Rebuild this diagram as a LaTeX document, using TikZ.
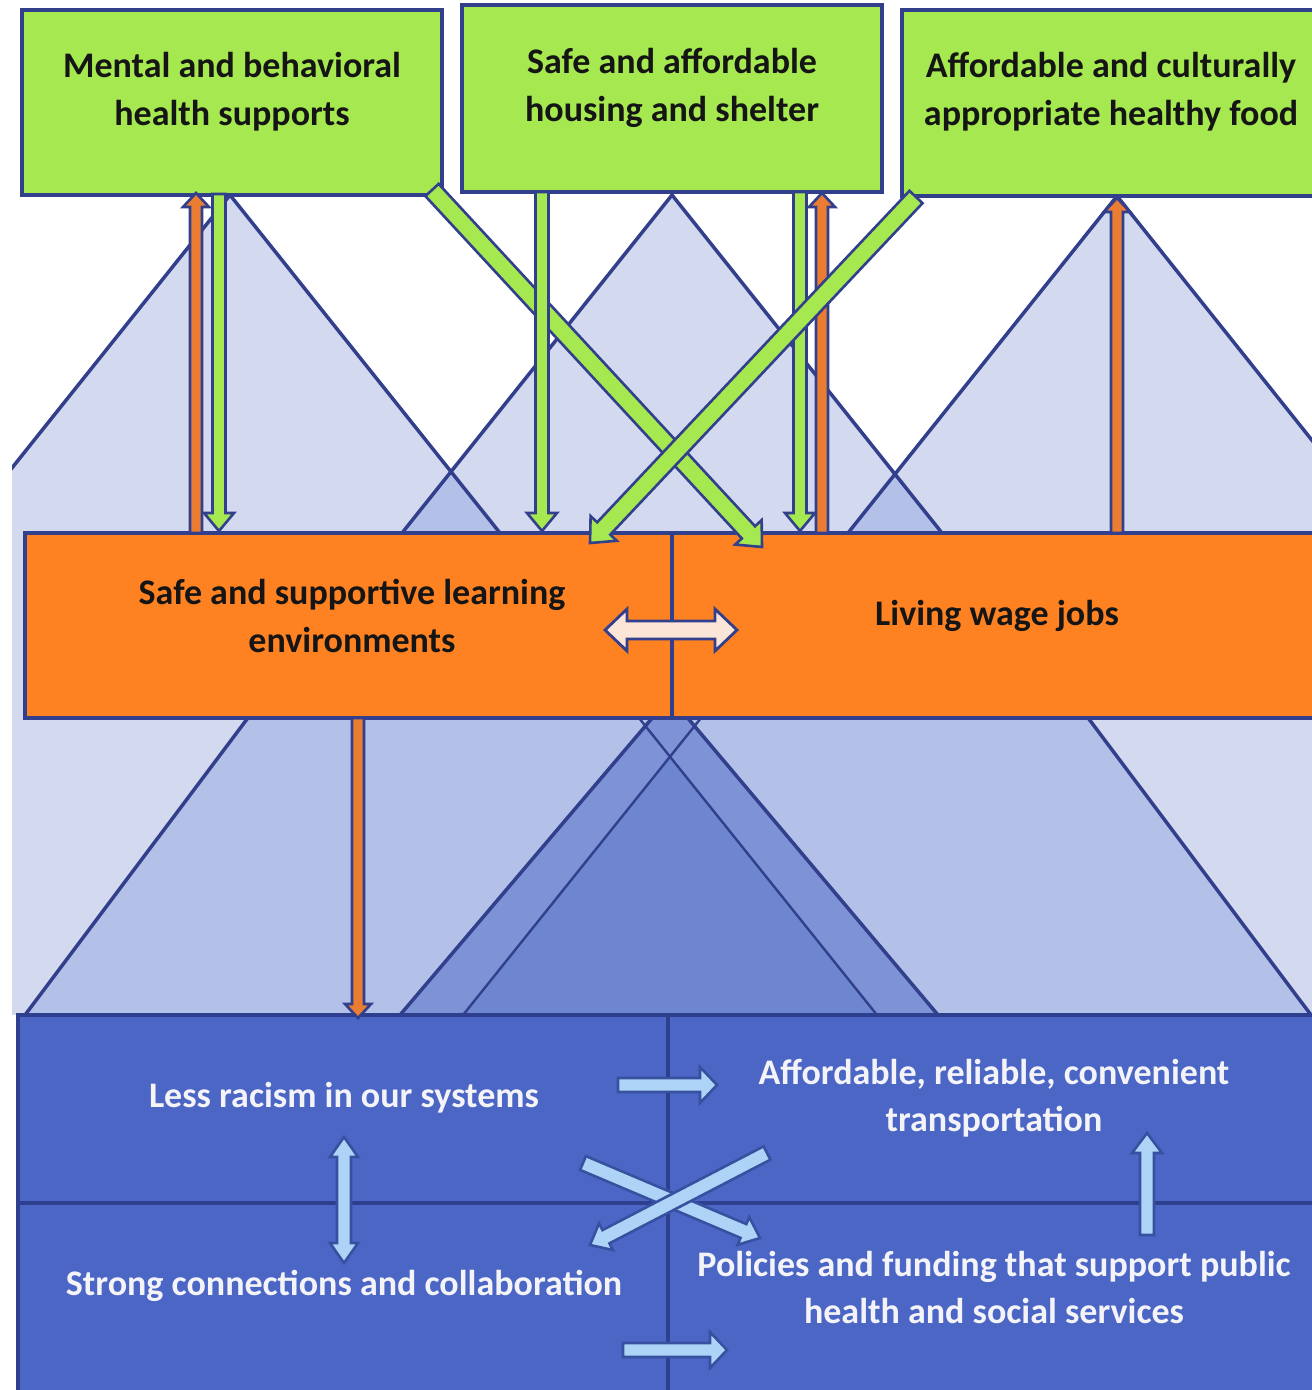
\documentclass[tikz,border=0pt]{standalone}
\usepackage{fontspec}
\setmainfont{Carlito}
\usetikzlibrary{calc}
\definecolor{navy}{HTML}{323F8C}
\definecolor{gfill}{HTML}{A6E84F}
\definecolor{ofill}{HTML}{FF8222}
\definecolor{oarrow}{HTML}{EB7D33}
\definecolor{bfill}{HTML}{4B66C5}
\definecolor{bline}{HTML}{2E3F8E}
\definecolor{Lone}{HTML}{D3DAEF}
\definecolor{Ltwo}{HTML}{B3C0E8}
\definecolor{Lthree}{HTML}{7D93D6}
\definecolor{Lfour}{HTML}{6E86CF}
\definecolor{peach}{HTML}{FBE5D6}
\definecolor{sky}{HTML}{ADD4F6}
\definecolor{skyline}{HTML}{37509F}
\definecolor{darktext}{HTML}{151515}
\definecolor{lighttext}{HTML}{F4F4F8}
\newcommand{\blockarrow}[6]{% style, from, to, shaft half, head half, head length
  \coordinate (bahd) at ($(#3)!#6!(#2)$);
  \draw[#1] ($(#2)!#4!90:(#3)$) -- ($(bahd)!#4!90:(#3)$) -- ($(bahd)!#5!90:(#3)$) -- (#3)
    -- ($(bahd)!#5!-90:(#3)$) -- ($(bahd)!#4!-90:(#3)$) -- ($(#2)!#4!-90:(#3)$) -- cycle;
}
\newcommand{\dblarrow}[6]{%
  \coordinate (dbha) at ($(#2)!#6!(#3)$);
  \coordinate (dbhb) at ($(#3)!#6!(#2)$);
  \draw[#1] (#2) -- ($(dbha)!#5!90:(#3)$) -- ($(dbha)!#4!90:(#3)$) -- ($(dbhb)!#4!90:(#3)$)
    -- ($(dbhb)!#5!90:(#3)$) -- (#3) -- ($(dbhb)!#5!-90:(#3)$) -- ($(dbhb)!#4!-90:(#3)$)
    -- ($(dbha)!#4!-90:(#3)$) -- ($(dbha)!#5!-90:(#3)$) -- cycle;
}
\tikzset{
  gbox/.style={draw=navy, line width=3.5pt, fill=gfill, rectangle, inner sep=0pt},
  obox/.style={draw=navy, line width=3.5pt, fill=ofill, rectangle, inner sep=0pt},
  bbox/.style={draw=bline, line width=4pt, fill=bfill, rectangle, inner sep=0pt},
  dtxt/.style={text=darktext, align=center, font=\fontsize{36}{48}\selectfont\bfseries, inner sep=0pt},
  ltxt/.style={text=lighttext, align=center, font=\fontsize{36}{47}\selectfont\bfseries, inner sep=0pt},
  tri/.style={draw=navy, line width=3.5pt},
  garrow/.style={fill=gfill, draw=navy, line width=2.6pt},
  oarr/.style={fill=oarrow, draw=navy, line width=2.6pt},
  parr/.style={fill=peach, draw=navy, line width=2.8pt},
  sarr/.style={fill=sky, draw=skyline, line width=2.6pt},
}
\begin{document}
\begin{tikzpicture}[x=1pt, y=-1pt]
\useasboundingbox (0,0) rectangle (1312,1390);
\clip (0,0) rectangle (1312,1390);
\fill[white] (0,0) rectangle (1312,1390);
% background triangles
\begin{scope}
  \clip (12,0) rectangle (1312,1015);
  \fill[Lone] (12,533) rectangle (1312,1015);
  \fill[Lone] (230,195) -- (-40,533) -- (500,533) -- cycle;
  \fill[Lone] (672,195) -- (402,533) -- (942,533) -- cycle;
  \fill[Lone] (1117,196) -- (848,533) -- (1386,533) -- cycle;
  \fill[Ltwo] (451,472) -- (402,533) -- (500,533) -- cycle;
  \fill[Ltwo] (895,474) -- (848,533) -- (942,533) -- cycle;
  \draw[tri] (-40,533) -- (230,195) -- (500,533);
  \draw[tri] (402,533) -- (672,195) -- (942,533);
  \draw[tri] (848,533) -- (1117,196) -- (1386,533);
\end{scope}
\begin{scope}
  \clip (12,533) rectangle (1312,1015);
  \fill[Ltwo] (668,158) -- (25,1015) -- (1311,1015) -- cycle;
  \fill[Lthree] (670,697) -- (400,1015) -- (938,1015) -- cycle;
  \fill[Lfour] (670,757) -- (463,1015) -- (877,1015) -- cycle;
  \draw[tri] (25,1015) -- (668,158) -- (1311,1015);
  \draw[tri] (400,1015) -- (670,697) -- (938,1015);
  \draw[tri, line width=2.4pt] (463,1015) -- (701,718);
  \draw[tri, line width=2.4pt] (877,1015) -- (639,718);
\end{scope}
% boxes
\node[bbox, minimum width=650pt, minimum height=188pt] (b1) at (343,1109) {};
\node[bbox, minimum width=652pt, minimum height=188pt] (b2) at (994,1109) {};
\node[bbox, minimum width=650pt, minimum height=192pt] (b3) at (343,1299) {};
\node[bbox, minimum width=652pt, minimum height=192pt] (b4) at (994,1299) {};
\node[obox, minimum width=647pt, minimum height=185pt] (o1) at (348.5,625.5) {};
\node[obox, minimum width=648pt, minimum height=185pt] (o2) at (996,625.5) {};
\node[gbox, minimum width=420pt, minimum height=185pt] (g1) at (232,102.5) {};
\node[gbox, minimum width=420pt, minimum height=187pt] (g2) at (672,98.5) {};
\node[gbox, minimum width=418pt, minimum height=186pt] (g3) at (1111,103) {};
% arrow end points
\coordinate (a1s) at (196,533); \coordinate (a1e) at (196,193);
\coordinate (a2s) at (219,194); \coordinate (a2e) at (219,531);
\coordinate (a3s) at (432,190); \coordinate (a3e) at (762,547);
\coordinate (a4s) at (542,192); \coordinate (a4e) at (542,531);
\coordinate (a5s) at (916,197); \coordinate (a5e) at (590,543);
\coordinate (a6s) at (800,192); \coordinate (a6e) at (800,531);
\coordinate (a7s) at (822,533); \coordinate (a7e) at (822,193);
\coordinate (a8s) at (1117,533); \coordinate (a8e) at (1117,198);
\coordinate (d1) at (605,630); \coordinate (d2) at (737,630);
\coordinate (a9s) at (358,718); \coordinate (a9e) at (358,1018);
\coordinate (r1s) at (618,1085); \coordinate (r1e) at (717,1085);
\coordinate (v1) at (344,1137); \coordinate (v2) at (344,1263);
\coordinate (x1s) at (583,1163); \coordinate (x1e) at (760,1238);
\coordinate (x2s) at (767,1153); \coordinate (x2e) at (590,1245);
\coordinate (u1s) at (1147,1235); \coordinate (u1e) at (1147,1133);
\coordinate (r2s) at (623,1350); \coordinate (r2e) at (727,1350);
% top arrows
\blockarrow{oarr}{a1s}{a1e}{6pt}{13pt}{14pt}
\blockarrow{garrow}{a2s}{a2e}{6.5pt}{15pt}{18pt}
\blockarrow{garrow}{a3s}{a3e}{9pt}{18pt}{20pt}
\blockarrow{garrow}{a4s}{a4e}{6.5pt}{15pt}{18pt}
\blockarrow{garrow}{a6s}{a6e}{6.5pt}{15pt}{18pt}
\blockarrow{oarr}{a7s}{a7e}{6pt}{13pt}{14pt}
\blockarrow{garrow}{a5s}{a5e}{9pt}{18pt}{20pt}
\blockarrow{oarr}{a8s}{a8e}{6pt}{13pt}{14pt}
% middle arrows
\dblarrow{parr}{d1}{d2}{9pt}{21pt}{22pt}
\blockarrow{oarr}{a9s}{a9e}{6pt}{13pt}{14pt}
% bottom arrows
\blockarrow{sarr}{r1s}{r1e}{7pt}{18pt}{17pt}
\dblarrow{sarr}{v1}{v2}{7pt}{14pt}{20pt}
\blockarrow{sarr}{x1s}{x1e}{7.5pt}{15pt}{18pt}
\blockarrow{sarr}{x2s}{x2e}{7.5pt}{15pt}{18pt}
\blockarrow{sarr}{u1s}{u1e}{7pt}{15pt}{20pt}
\blockarrow{sarr}{r2s}{r2e}{7pt}{18pt}{17pt}
% texts
\node[dtxt] (g1t) at (232,92) {Mental and behavioral\\health supports};
\node[dtxt] (g2t) at (672,88) {Safe and affordable\\housing and shelter};
\node[dtxt] (g3t) at (1111,92) {Affordable and culturally\\appropriate healthy food};
\node[dtxt] (o1t) at (352,616) {Safe and supportive learning\\environments};
\node[dtxt] (o2t) at (997,616) {Living wage jobs};
\node[ltxt] (b1t) at (344,1098) {Less racism in our systems};
\node[ltxt] (b2t) at (994,1098) {Affordable, reliable, convenient\\transportation};
\node[ltxt] (b3t) at (344,1286) {Strong connections and collaboration};
\node[ltxt] (b4t) at (994,1287) {Policies and funding that support public\\health and social services};
\end{tikzpicture}
\end{document}
